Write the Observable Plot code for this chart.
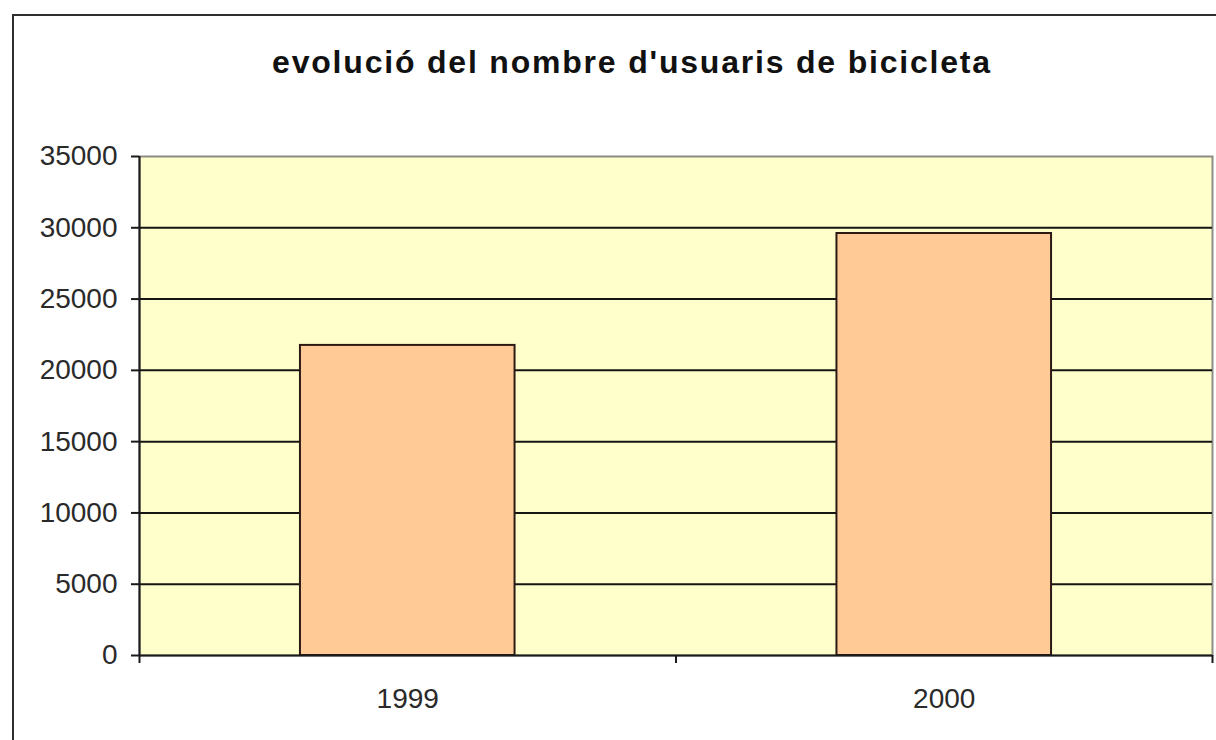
<!DOCTYPE html>
<html>
<head>
<meta charset="utf-8">
<script src="https://cdn.jsdelivr.net/npm/d3@7"></script>
<script src="https://cdn.jsdelivr.net/npm/@observablehq/plot@0.6"></script>
<style>
  html, body { margin: 0; padding: 0; background: #ffffff; }
  #page { position: relative; width: 1216px; height: 740px; overflow: hidden; background: #ffffff; }
  #frame { position: absolute; left: 12px; top: 14px; width: 1400px; height: 1000px; border: 2px solid #2e2e2e; box-sizing: border-box; }
  #title { position: absolute; left: 0; top: 46px; width: 1264px; text-align: center;
           font-family: "Liberation Sans", Arial, sans-serif; font-weight: bold; font-size: 32px; line-height: 32px;
           letter-spacing: 1.8px; color: #111; }
  #chart { position: absolute; left: 0; top: 100px; }
</style>
</head>
<body>
<div id="page">
  <div id="frame"></div>
  <div id="title">evolució del nombre d'usuaris de bicicleta</div>
  <div id="chart"></div>
</div>
<script>
// Data
const years = [1999, 2000];
const users = [21750, 29600];
const yTicks = [0, 5000, 10000, 15000, 20000, 25000, 30000, 35000];
const categoryBounds = [1998.5, 1999.5, 2000.5];

const data = years.map((year, i) => ({year, value: users[i]}));
const barHalfWidth = 0.2;
const gridValues = yTicks.filter(v => v > d3.min(yTicks) && v < d3.max(yTicks));

const chart = Plot.plot({
  width: 1216,
  height: 640,
  marginTop: 56,
  marginBottom: 85,
  marginLeft: 139,
  marginRight: 4,
  style: {fontFamily: "'Liberation Sans', Arial, sans-serif", fontSize: "28px", color: "#2a2a2a", background: "transparent", overflow: "visible"},
  x: {domain: [d3.min(categoryBounds), d3.max(categoryBounds)]},
  y: {domain: [d3.min(yTicks), d3.max(yTicks)]},
  marks: [
    Plot.frame({fill: "#FFFFCC", stroke: "#8c8c84", strokeWidth: 2}),
    Plot.ruleY(gridValues, {stroke: "#151515", strokeWidth: 2}),
    Plot.rectY(data, {x1: d => d.year - barHalfWidth, x2: d => d.year + barHalfWidth, y: "value",
      fill: "#FFCA96", stroke: "#2b1a14", strokeWidth: 2}),
    Plot.ruleY([d3.min(yTicks)], {stroke: "#1a1a1a", strokeWidth: 2}),
    Plot.ruleX([d3.min(categoryBounds)], {stroke: "#1a1a1a", strokeWidth: 2}),
    Plot.axisY({ticks: yTicks, tickSize: 8, tickPadding: 14, tickFormat: d => String(d), label: null,
      stroke: "#1a1a1a", strokeWidth: 2, fontSize: 28}),
    Plot.axisX({ticks: years, tickSize: 0, tickPadding: 33, tickFormat: d => String(d), label: null, fontSize: 28}),
    Plot.axisX({ticks: categoryBounds, tickSize: 8, tickFormat: () => "", label: null,
      stroke: "#1a1a1a", strokeWidth: 2})
  ]
});
document.getElementById("chart").appendChild(chart);
</script>
</body>
</html>
